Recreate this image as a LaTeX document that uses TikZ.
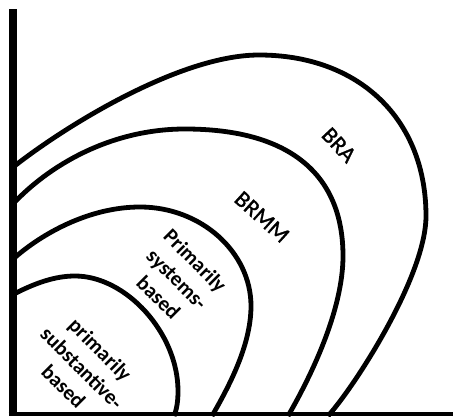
\documentclass[tikz,border=0pt]{standalone}
\usepackage{fontspec}
\setmainfont{Carlito}
\newfontfamily\ringfont{Carlito}[FakeBold=1.2]
\tikzset{
  axis/.style={line width=8pt,black},
  base/.style={line width=4pt,black},
  ring/.style={line width=4.8pt,black},
  zone/.style={font=\ringfont\fontsize{23}{27}\selectfont,align=center,inner sep=0pt},
  core/.style={zone,font=\fontsize{21}{26}\selectfont\bfseries}
}
\begin{document}
\begin{tikzpicture}[x=1pt,y=1pt]
  \useasboundingbox (0,0) rectangle (453,416);
  \draw[ring] (12,121) .. controls (35,133) and (55,140) .. (75,140)
    .. controls (126,140) and (178,83) .. (178,25)
    .. controls (178,12) and (176,5) .. (174,0);
  \draw[ring] (12,156) .. controls (42,183) and (90,209) .. (140,209)
    .. controls (201,209) and (251,164) .. (251,110)
    .. controls (251,70) and (228,28) .. (212,0);
  \draw[ring] (12,211) .. controls (48,250) and (110,287) .. (185,287)
    .. controls (288,287) and (343,243) .. (343,160)
    .. controls (343,105) and (310,38) .. (288,0);
  \draw[ring] (12,248) .. controls (65,290) and (180,361) .. (259,361)
    .. controls (359,361) and (426,297) .. (426,200)
    .. controls (426,140) and (355,30) .. (328,0);
  \draw[base] (8.5,2) -- (453,2);
  \draw[axis] (12.5,2) -- (12.5,407);
  \node[zone,rotate=-47] (bra) at (339,271) {BRA};
  \node[zone,rotate=-42] (brmm) at (262,199) {BRMM};
  \node[core,rotate=-45] (systems) at (177,137) {Primarily\\systems-\\based};
  \node[core,rotate=-45] (substantive) at (82,48) {primarily\\substantive-\\based};
\end{tikzpicture}
\end{document}
